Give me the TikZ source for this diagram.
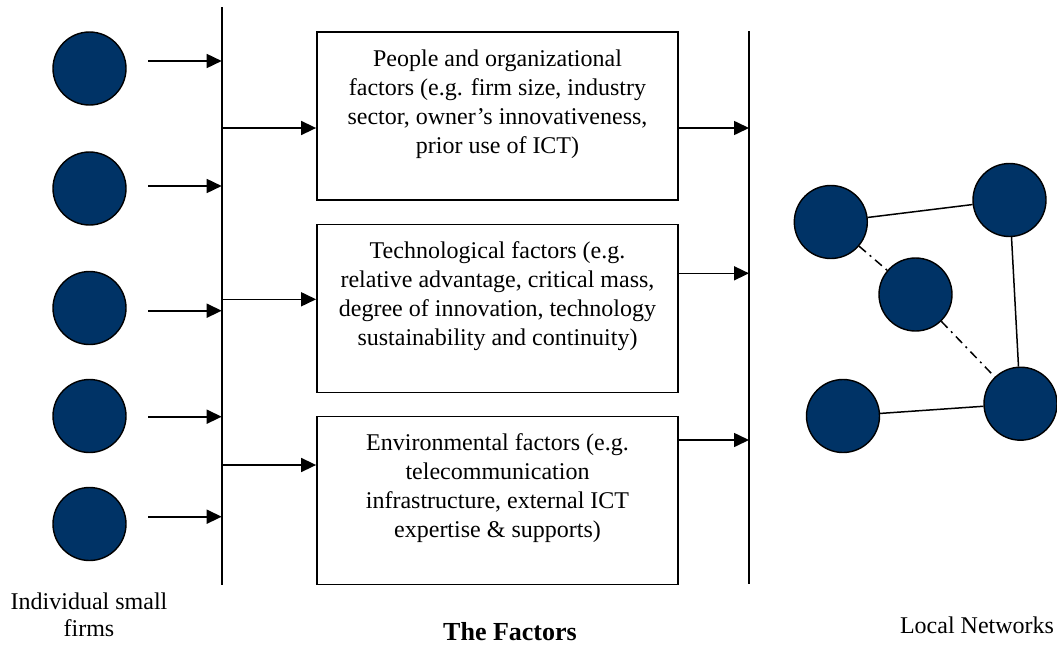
\documentclass[tikz,border=0pt]{standalone}
\usepackage{fontspec}
\setmainfont{Liberation Serif}
\usetikzlibrary{arrows.meta}
\definecolor{firmblue}{RGB}{0,51,102}
\begin{document}
\begin{tikzpicture}[x=1pt,y=-1pt,
  firm/.style={circle,draw=black,line width=1.4pt,fill=firmblue,minimum size=73pt,inner sep=0pt},
  factorbox/.style={draw=black,line width=1.8pt,minimum width=361pt,minimum height=168pt,align=center,inner sep=0pt,
     font=\fontsize{24}{29}\selectfont},
  arr/.style={line width=1.6pt,-{Triangle[length=15pt,width=14pt]}},
  bus/.style={line width=1.8pt},
  link/.style={line width=1.5pt},
  dlink/.style={line width=1.5pt,dash pattern=on 9pt off 5pt on 2pt off 5pt},
  lbl/.style={font=\fontsize{24}{27}\selectfont,align=center,inner sep=0pt}]
\useasboundingbox (0,0) rectangle (1057,645);

% individual firms
\node[firm] (f1) at (89.5,68.5) {};
\node[firm] (f2) at (89.5,188.5) {};
\node[firm] (f3) at (89.5,308) {};
\node[firm] (f4) at (89.5,416) {};
\node[firm] (f5) at (89.5,524) {};

% buses
\coordinate (lbtop) at (221.7,7);
\coordinate (lbbot) at (221.7,585);
\coordinate (rbtop) at (749,31);
\coordinate (rbbot) at (749,584);
\draw[bus] (lbtop) -- (lbbot);
\draw[bus] (rbtop) -- (rbbot);

% firm arrows
\foreach \i/\y in {1/61,2/186,3/310.7,4/416.7,5/516.7}{
  \coordinate (s\i) at (148,\y);
  \draw[arr] (s\i) -- (s\i -| lbtop);
}

% factor boxes
\node[factorbox] (b1) at (497.5,116) {People and organizational\\factors (e.g. firm size, industry\\sector, owner's innovativeness,\\prior use of ICT)\\\mbox{}};
\node[factorbox] (b2) at (497.5,308.5) {Technological factors (e.g.\\relative advantage, critical mass,\\degree of innovation, technology\\sustainability and continuity)\\\mbox{}};
\node[factorbox] (b3) at (497.5,500.5) {Environmental factors (e.g.\\telecommunication\\infrastructure, external ICT\\expertise \& supports)\\\mbox{}};

% bus to boxes
\coordinate (i1) at (221.7,128);
\coordinate (i2) at (221.7,299.3);
\coordinate (i3) at (221.7,465);
\draw[arr] (i1) -- (i1 -| b1.west);
\draw[arr] (i2) -- (i2 -| b2.west);
\draw[arr] (i3) -- (i3 -| b3.west);

% boxes to right bus
\coordinate (o1) at (749,128);
\coordinate (o2) at (749,273.3);
\coordinate (o3) at (749,440);
\draw[arr] (o1 -| b1.east) -- (o1);
\draw[arr] (o2 -| b2.east) -- (o2);
\draw[arr] (o3 -| b3.east) -- (o3);

% local network
\node[firm] (na) at (830.8,222) {};
\node[firm] (nb) at (1009.5,200) {};
\node[firm] (nc) at (915.5,294.5) {};
\node[firm] (nd) at (843,416) {};
\node[firm] (ne) at (1020.5,403.7) {};
\draw[link] (na) -- (nb);
\draw[link] (nb) -- (ne);
\draw[link] (nd) -- (ne);
\draw[dlink] (na) -- (nc);
\draw[dlink] (nc) -- (ne);

% labels
\node[lbl] (lf) at (89,615) {Individual small\\firms};
\node[lbl,font=\fontsize{26}{28}\selectfont\bfseries] (lt) at (510,632) {The Factors};
\node[lbl] (ln) at (977,625) {Local Networks};
\end{tikzpicture}
\end{document}
